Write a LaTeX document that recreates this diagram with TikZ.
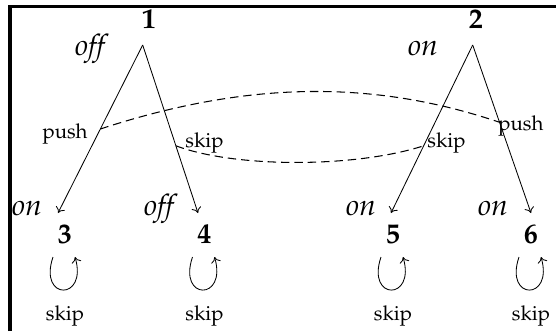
\documentclass[tikz,border=0pt]{standalone}
\usepackage[T1]{fontenc}
\usepackage{mathpazo}
\usetikzlibrary{arrows.meta}
\begin{document}
\begin{tikzpicture}[line width=0.6pt,
  num/.style={font=\fontsize{20}{24}\selectfont\bfseries, inner sep=0pt, anchor=base},
  mode/.style={font=\fontsize{21}{25}\selectfont\itshape, inner sep=0pt, anchor=base},
  act/.style={font=\fontsize{14.5}{17}\selectfont, inner sep=0pt},
  trans/.style={-{To[length=4pt,width=7pt]}},
  link/.style={line width=0.75pt, dash pattern=on 6pt off 3.5pt}]
  \useasboundingbox (0,0) rectangle (13.9,8.275);
  % frame
  \draw[line width=2.5pt] (0.25,0) |- (13.9,8.1125);
  % states
  \node[num] (n1) at (3.725,7.575) {1};
  \node[num] (n2) at (11.9,7.575) {2};
  \node[num] (n3) at (1.625,2.2) {3};
  \node[num] (n4) at (5.1125,2.2) {4};
  \node[num] (n5) at (9.825,2.2) {5};
  \node[num] (n6) at (13.275,2.2) {6};
  % modes
  \node[mode] (m1) at (2.25,6.9) {off};
  \node[mode] (m2) at (10.575,6.9) {on};
  \node[mode] (m3) at (0.675,2.9) {on};
  \node[mode] (m4) at (3.975,2.9) {off};
  \node[mode] (m5) at (9.025,2.9) {on};
  \node[mode] (m6) at (12.325,2.9) {on};
  % branch points
  \coordinate (top1) at (3.5675,7.15);
  \coordinate (top2) at (11.8175,7.15);
  \coordinate (in3) at (1.45,2.95);
  \coordinate (in4) at (4.95,2.95);
  \coordinate (in5) at (9.775,2.95);
  \coordinate (in6) at (13.275,2.95);
  % transitions
  \draw[trans] (top1) -- coordinate[pos=0.5] (a13) (in3);
  \draw[trans] (top1) -- coordinate[pos=0.6] (a14) (in4);
  \draw[trans] (top2) -- coordinate[pos=0.6] (a25) (in5);
  \draw[trans] (top2) -- coordinate[pos=0.46] (a26) (in6);
  % matching edges
  \draw[link] (a13) .. controls +(3.74,1.225) and +(-3.11,1.05) .. (a26);
  \draw[link] (a14) .. controls +(1.48,-0.555) and +(-1.72,-0.555) .. (a25);
  % edge labels
  \node[act, anchor=base east] (l13) at (2.2,4.825) {push};
  \node[act, anchor=base west] (l14) at (4.625,4.6) {skip};
  \node[act, anchor=base west] (l25) at (10.675,4.6) {skip};
  \node[act, anchor=base west] (l26) at (12.45,5.025) {push};
  % self loops
  \foreach \s in {3,4,5,6} {
    \draw[trans] ([shift={(-0.3,-0.35)}]n\s.base) .. controls +(-0.375,-1.1) and +(0.325,-1.1) .. ([shift={(0.25,-0.35)}]n\s.base);
    \node[act, anchor=base] (k\s) at ([yshift=-1.925cm]n\s.base) {skip};
  }
\end{tikzpicture}
\end{document}
